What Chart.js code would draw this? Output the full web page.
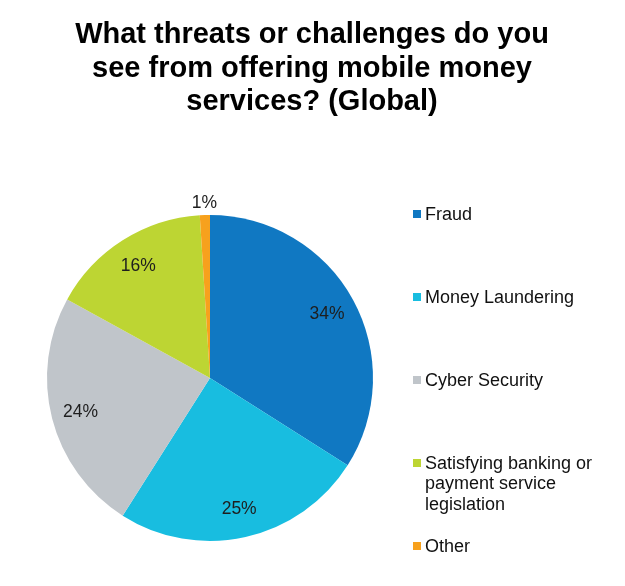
<!DOCTYPE html>
<html>
<head>
<meta charset="utf-8">
<script src="https://cdn.jsdelivr.net/npm/chart.js@4/dist/chart.umd.min.js"></script>
<style>
  html, body { margin: 0; padding: 0; background: #ffffff; }
  #wrap { width: 625px; height: 586px; position: relative; }
</style>
</head>
<body>
<div id="wrap"><canvas id="chart" width="625" height="586"></canvas></div>
<script>
// Survey answers (share of respondents, %)
const categories = [
  'Fraud',
  'Money Laundering',
  'Cyber Security',
  'Satisfying banking or payment service legislation',
  'Other'
];
const shares = [34, 25, 24, 16, 1];
const sliceColors = ['#1078c2', '#18bde0', '#c0c5ca', '#bdd533', '#f7a11d'];
const titleLines = [
  'What threats or challenges do you',
  'see from offering mobile money',
  'services? (Global)'
];

const FONT = '"Liberation Sans", Arial, Helvetica, sans-serif';

// Title and right-hand legend, drawn on the chart canvas
const headerAndLegend = {
  id: 'headerAndLegend',
  afterDraw(chart) {
    const ctx = chart.ctx;
    ctx.save();
    ctx.fillStyle = '#000000';
    ctx.font = 'bold 29px ' + FONT;
    ctx.textAlign = 'center';
    ctx.textBaseline = 'alphabetic';
    titleLines.forEach((line, i) => ctx.fillText(line, 312, 43 + i * 33.5));

    const ds = chart.data.datasets[0];
    ctx.font = '18px ' + FONT;
    ctx.textAlign = 'left';
    ctx.textBaseline = 'middle';
    const maxW = 175;
    chart.data.labels.forEach((label, i) => {
      const y = 214 + i * 83;
      ctx.fillStyle = ds.backgroundColor[i];
      ctx.fillRect(413, y - 4, 8, 8);
      // word wrap
      const words = label.split(' ');
      const lines = [];
      let cur = '';
      words.forEach(w => {
        const test = cur ? cur + ' ' + w : w;
        if (ctx.measureText(test).width > maxW && cur) { lines.push(cur); cur = w; }
        else cur = test;
      });
      lines.push(cur);
      ctx.fillStyle = '#111111';
      lines.forEach((ln, j) => ctx.fillText(ln, 425, y + 1 + j * 20.5));
    });
    ctx.restore();
  }
};

// Percentage labels on (or just outside) each slice
const sliceLabels = {
  id: 'sliceLabels',
  afterDatasetsDraw(chart) {
    const ctx = chart.ctx;
    const meta = chart.getDatasetMeta(0);
    const values = chart.data.datasets[0].data;
    ctx.save();
    ctx.font = '17.5px ' + FONT;
    ctx.fillStyle = '#1e1e1e';
    ctx.textAlign = 'center';
    ctx.textBaseline = 'middle';
    meta.data.forEach((arc, i) => {
      const p = arc.getProps(['x', 'y', 'startAngle', 'endAngle', 'outerRadius'], true);
      const mid = (p.startAngle + p.endAngle) / 2;
      const small = values[i] < 3;
      const r = small ? p.outerRadius + 13 : p.outerRadius * 0.82;
      ctx.fillText(values[i] + '%', p.x + Math.cos(mid) * r, p.y + 1 + Math.sin(mid) * r);
    });
    ctx.restore();
  }
};

new Chart(document.getElementById('chart'), {
  type: 'pie',
  data: {
    labels: categories,
    datasets: [{
      data: shares,
      backgroundColor: sliceColors,
      borderWidth: 0
    }]
  },
  options: {
    responsive: false,
    animation: false,
    layout: { padding: { left: 47, right: 252, top: 215, bottom: 45 } },
    plugins: {
      legend: { display: false },
      tooltip: { enabled: false },
      title: { display: false }
    }
  },
  plugins: [sliceLabels, headerAndLegend]
});
</script>
</body>
</html>
